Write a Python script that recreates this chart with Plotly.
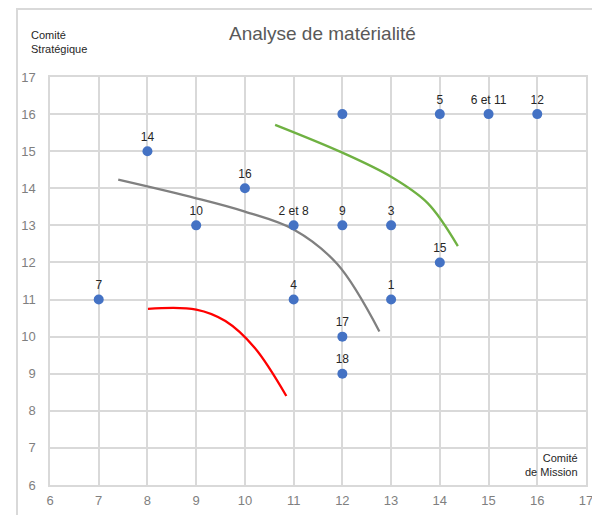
import plotly.graph_objects as go

# Points
px_vals = [7, 8, 9, 10, 11, 11, 12, 12, 12, 12, 13, 13, 14, 14, 15, 16]
py_vals = [11, 15, 13, 14, 13, 11, 16, 13, 10, 9, 13, 11, 16, 12, 16, 16]
p_labels = ["7", "14", "10", "16", "2 et 8", "4", "", "9", "17", "18", "3", "1", "5", "15", "6 et 11", "12"]

# Curves
red_x = [8.01, 9.0, 9.6, 10.2, 10.85]
red_y = [10.75, 10.73, 10.42, 9.7, 8.40]
gray_x = [7.40, 9.0, 10.0, 11.0, 11.9, 12.76]
gray_y = [14.23, 13.73, 13.37, 12.89, 11.95, 10.14]
green_x = [10.62, 12.0, 13.0, 13.75, 14.37]
green_y = [15.71, 14.96, 14.31, 13.6, 12.44]

ticks = list(range(6, 18))

# page offset (body margin) compensation: figure px = page px - 8
OFF = 8
L, T, PW, PH = 50 - OFF, 77 - OFF, 536, 408
W, H = 600, 515


def px(xp):
    return (xp - OFF - L) / PW


def py(yp):
    return (T + PH - (yp - OFF)) / PH


fig = go.Figure()
for xs, ys, col in [(red_x, red_y, "#ff0000"), (gray_x, gray_y, "#808080"), (green_x, green_y, "#6fb142")]:
    fig.add_trace(go.Scatter(x=xs, y=ys, mode="lines", line=dict(color=col, width=2.3, shape="spline", smoothing=1.0),
                             hoverinfo="skip", showlegend=False))

fig.add_trace(go.Scatter(x=px_vals, y=py_vals, mode="markers+text", text=p_labels, textposition="top center",
                         marker=dict(color="#4472c4", size=10),
                         textfont=dict(family="Liberation Sans, Arial", size=12, color="#262626"),
                         showlegend=False))

axis_common = dict(tickvals=ticks, showgrid=True, gridcolor="#d9d9d9", gridwidth=1.5, zeroline=False,
                   showline=True, linecolor="#d9d9d9", linewidth=1.5, mirror=True, automargin=False,
                   tickfont=dict(family="Liberation Sans, Arial", size=13, color="#7f7f7f"), ticks="")

fig.update_xaxes(range=[6, 17], ticklabelstandoff=3, **axis_common)
fig.update_yaxes(range=[6, 17], ticklabelstandoff=10, **axis_common)

fig.update_layout(
    width=W, height=H,
    margin=dict(l=L, r=W - L - PW, t=T, b=H - T - PH),
    plot_bgcolor="white", paper_bgcolor="white",
    shapes=[dict(type="rect", xref="paper", yref="paper",
                 x0=px(17), x1=px(640),
                 y0=-0.3, y1=py(9),
                 line=dict(color="#d9d9d9", width=2), fillcolor="rgba(0,0,0,0)", layer="below")],
    annotations=[
        dict(text="Analyse de matérialité", x=px(322), y=py(34), xref="paper", yref="paper",
             showarrow=False, xanchor="center", yanchor="middle",
             font=dict(family="Liberation Sans, Arial", size=19, color="#595959")),
        dict(text="Comité<br>Stratégique", x=px(29), y=py(42), xref="paper", yref="paper",
             showarrow=False, xanchor="left", yanchor="middle", align="left",
             font=dict(family="Liberation Sans, Arial", size=11, color="#262626")),
        dict(text="Comité<br>de Mission", x=px(580), y=py(465), xref="paper", yref="paper",
             showarrow=False, xanchor="right", yanchor="middle", align="right",
             font=dict(family="Liberation Sans, Arial", size=11, color="#262626")),
    ],
)

fig.write_html("out.html")
